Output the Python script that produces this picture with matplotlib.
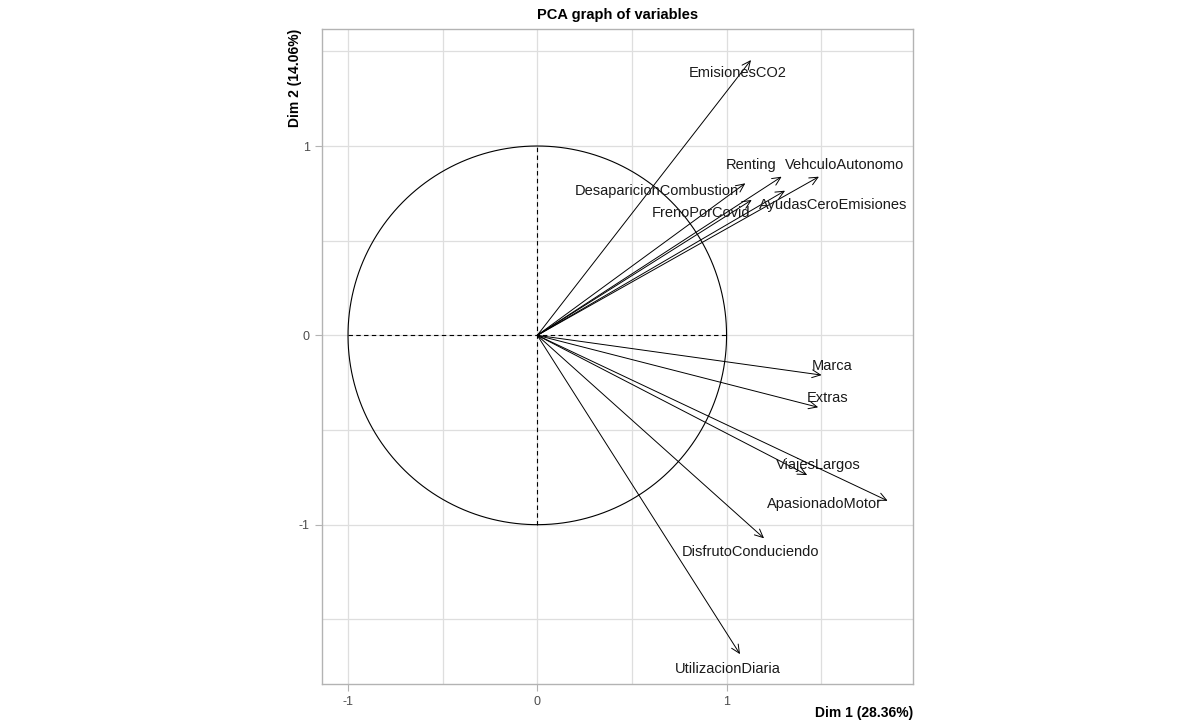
import numpy as np
import matplotlib
matplotlib.use('Agg')
import matplotlib.pyplot as plt

plt.rcParams['font.family'] = ['Liberation Sans', 'DejaVu Sans']

# variable coordinates (Dim 1, Dim 2)
variables = ['EmisionesCO2', 'DesaparicionCombustion', 'Renting', 'VehculoAutonomo',
             'FrenoPorCovid', 'AyudasCeroEmisiones', 'Marca', 'Extras',
             'ViajesLargos', 'ApasionadoMotor', 'DisfrutoConduciendo', 'UtilizacionDiaria']
dim1 = [1.129, 1.099, 1.291, 1.488, 1.133, 1.309, 1.502, 1.484, 1.426, 1.851, 1.198, 1.071]
dim2 = [1.454, 0.803, 0.838, 0.838, 0.715, 0.764, -0.210, -0.380, -0.738, -0.874, -1.072, -1.684]

# where the (repelled) labels ended up
label_x = [1.058, 0.631, 1.130, 1.625, 0.865, 1.564, 1.557, 1.535, 1.483, 1.517, 1.126, 1.007]
label_y = [1.387, 0.762, 0.900, 0.900, 0.648, 0.688, -0.160, -0.330, -0.685, -0.891, -1.146, -1.764]

xlabel = 'Dim 1 (28.36%)'
ylabel = 'Dim 2 (14.06%)'
title = 'PCA graph of variables'

fig = plt.figure(figsize=(12, 7.28), dpi=100)
ax = fig.add_axes([321.7 / 1200, (728 - 683.7) / 728, 591.3 / 1200, 654.7 / 728])

ax.set_xlim(-1.139, 1.985)
ax.set_ylim(-1.840, 1.618)

# grid like theme_light
for v in [-1, -0.5, 0, 0.5, 1, 1.5]:
    ax.axvline(v, color='#DEDEDE', lw=0.9, zorder=0)
for v in [-1.5, -1, -0.5, 0, 0.5, 1, 1.5]:
    ax.axhline(v, color='#DEDEDE', lw=0.9, zorder=0)

# correlation circle
t = np.linspace(0, 2 * np.pi, 400)
ax.plot(np.cos(t), np.sin(t), color='black', lw=0.8)
ax.plot([-1, 1], [0, 0], color='black', lw=0.8, ls=(0, (4, 3)))
ax.plot([0, 0], [-1, 1], color='black', lw=0.8, ls=(0, (4, 3)))

for name, x, y, lx, ly in zip(variables, dim1, dim2, label_x, label_y):
    ax.annotate('', xy=(x, y), xytext=(0, 0),
                arrowprops=dict(arrowstyle='->,head_length=0.6,head_width=0.28',
                                lw=0.7, color='black', shrinkA=0, shrinkB=0))
    ax.text(lx, ly, name, ha='center', va='center', fontsize=10.5, color='#1a1a1a')

ax.set_xticks([-1, 0, 1])
ax.set_yticks([-1, 0, 1])
ax.set_xticklabels(['-1', '0', '1'])
ax.set_yticklabels(['-1', '0', '1'])
ax.tick_params(colors='#B3B3B3', labelcolor='#4D4D4D', labelsize=9, length=5, width=0.8)
for s in ax.spines.values():
    s.set_color('#B3B3B3')
    s.set_linewidth(1.0)

fig.text(913 / 1200, 1 - 713 / 728, xlabel, ha='right', va='center',
         fontsize=10, fontweight='bold')
fig.text(295 / 1200, 1 - 29 / 728, ylabel, ha='center', va='top', rotation=90,
         fontsize=10, fontweight='bold')
fig.text(617.4 / 1200, 1 - 15 / 728, title, ha='center', va='center',
         fontsize=10.5, fontweight='bold')

fig.savefig('out.png', dpi=100)
